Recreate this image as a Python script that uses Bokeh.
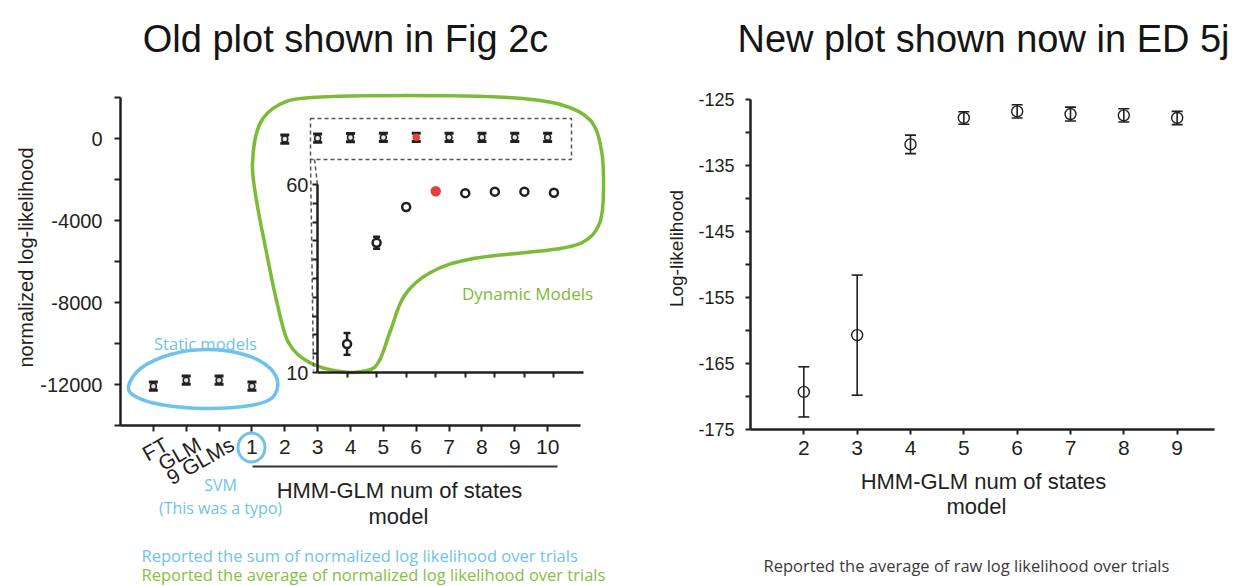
import math

from bokeh.core.properties import value
from bokeh.embed import file_html
from bokeh.models import (ColumnDataSource, FixedTicker, LinearAxis, Range1d,
                          TeeHead, Whisker)
from bokeh.plotting import figure
from bokeh.resources import INLINE

# ---------------------------------------------------------------- data
# Old panel (Fig 2c): static models + HMM-GLM with 2..10 states
old_tick_labels = ["FT", "GLM", "9 GLMs", "1", "2", "3", "4", "5", "6", "7", "8", "9", "10"]
static_models = ["FT", "GLM", "9 GLMs", "SVM"]
static_ll = [-12080, -11790, -11790, -12080]
static_err = [200, 200, 200, 200]

hmm_states_old = [2, 3, 4, 5, 6, 7, 8, 9, 10]
hmm_ll_old = [-30.0, 17.6, 44.5, 54.0, 58.2, 57.7, 58.1, 58.1, 57.8]
hmm_err_old = [200, 200, 200, 200, 200, 200, 200, 200, 200]
best_state = 6

# zoomed inset: states 3..10 on the normalized scale
inset_states = [3, 4, 5, 6, 7, 8, 9, 10]
inset_ll = [17.6, 44.5, 54.0, 58.2, 57.7, 58.1, 58.1, 57.8]
inset_err = [2.9, 1.6, 0.8, 0.5, 0.5, 0.5, 0.5, 0.5]
inset_y_ticks = [10, 60]
inset_y_minor = [15, 20, 25, 30, 35, 40, 45, 50, 55]

old_y_ticks = [-12000, -8000, -4000, 0]
old_y_minor = [-14000, -10000, -6000, -2000, 2000]

# New panel (ED 5j): raw average log likelihood
new_states = [2, 3, 4, 5, 6, 7, 8, 9]
new_ll = [-169.3, -160.7, -131.8, -127.8, -126.8, -127.2, -127.4, -127.8]
new_err = [3.8, 9.1, 1.4, 0.95, 1.0, 1.05, 1.0, 1.0]
new_y_ticks = [-175, -165, -155, -145, -135, -125]
new_y_minor = [-170, -160, -150, -140, -130]

# ---------------------------------------------------------------- page
W, H = 1234, 586
INK = "#231f20"
BLUE = "#6fc3e8"
GREEN = "#7cbb35"
RED = "#e4403a"
SANS = "Liberation Sans"
HAND = "Open Sans"


def x_span(d0, p0, d1, p1):
    """Range whose values d0/d1 land at page pixels p0/p1 (from the left)."""
    k = (d1 - d0) / (p1 - p0)
    s = d0 - p0 * k
    return Range1d(s, s + W * k)


def y_span(d0, p0, d1, p1):
    """Range whose values d0/d1 land at page pixels p0/p1 (from the top)."""
    q0, q1 = H - p0, H - p1
    k = (d1 - d0) / (q1 - q0)
    s = d0 - q0 * k
    return Range1d(s, s + H * k)


p = figure(width=W, height=H, x_range=Range1d(0, W), y_range=Range1d(H, 0),
           x_axis_type=None, y_axis_type=None, output_backend="svg",
           toolbar_location=None, min_border=0, outline_line_color=None)
p.background_fill_color = "white"
p.border_fill_color = "white"

p.extra_x_ranges = {
    "old": x_span(0, 120, 14, 580),
    "inset": x_span(2, 317, 11, 583),
    "new": x_span(1, 750, 9.7, 1214),
}
p.extra_y_ranges = {
    "old": y_span(-14000, 425, 2000, 97),
    "inset": y_span(10, 372, 60, 184),
    "new": y_span(-175, 429, -125, 99),
}


def style_axis(ax, size, tick_out=6, standoff=6, width=2.5):
    ax.axis_line_color = INK
    ax.axis_line_width = width
    ax.major_tick_line_color = INK
    ax.minor_tick_line_color = INK
    ax.major_tick_line_width = 2
    ax.minor_tick_line_width = 2
    ax.major_tick_in = 0
    ax.minor_tick_in = 0
    ax.major_tick_out = tick_out
    ax.minor_tick_out = tick_out
    ax.major_label_text_font = SANS
    ax.major_label_text_font_size = f"{size}px"
    ax.major_label_text_color = INK
    ax.major_label_standoff = standoff


def plain_labels(ticks):
    # hyphen-minus labels, as in the printed figures
    return {t: str(t) for t in ticks}


# ---- old panel axes
ay = LinearAxis(x_range_name="old", y_range_name="old", fixed_location=0,
                bounds=(-14000, 2000),
                ticker=FixedTicker(ticks=old_y_ticks, minor_ticks=old_y_minor))
ay.major_label_overrides = plain_labels(old_y_ticks)
style_axis(ay, 20, tick_out=6, standoff=12)
p.add_layout(ay, "left")

old_pos = list(range(1, len(old_tick_labels) + 1))
ax_old = LinearAxis(x_range_name="old", y_range_name="old", fixed_location=-14000,
                    bounds=(0, 14), ticker=FixedTicker(ticks=old_pos, minor_ticks=[]))
ax_old.major_label_overrides = {pos: (lab if i >= 3 else "")
                                for i, (pos, lab) in enumerate(zip(old_pos, old_tick_labels))}
style_axis(ax_old, 21, tick_out=6, standoff=8)
p.add_layout(ax_old, "below")

# slanted names of the static models under their ticks
p.text(x=old_pos[:3], y=[-14000] * 3, text=old_tick_labels[:3],
       x_range_name="old", y_range_name="old", angle=0.52,
       x_offset=13, y_offset=17, text_align="right", text_baseline="middle",
       text_font=value(SANS), text_font_size=value("21px"), text_color=INK)

# ---- inset axes
iy = LinearAxis(x_range_name="inset", y_range_name="inset", fixed_location=2,
                bounds=(10, 60),
                ticker=FixedTicker(ticks=inset_y_ticks, minor_ticks=inset_y_minor))
style_axis(iy, 20, tick_out=5, standoff=4)
p.add_layout(iy, "left")

ix = LinearAxis(x_range_name="inset", y_range_name="inset", fixed_location=10,
                bounds=(2, 11), ticker=FixedTicker(ticks=inset_states, minor_ticks=[]))
ix.major_label_overrides = {s: "" for s in inset_states}
style_axis(ix, 10, tick_out=5, standoff=2)
p.add_layout(ix, "below")

# ---- new panel axes
ny = LinearAxis(x_range_name="new", y_range_name="new", fixed_location=1,
                bounds=(-175, -125),
                ticker=FixedTicker(ticks=new_y_ticks, minor_ticks=new_y_minor))
ny.major_label_overrides = plain_labels(new_y_ticks)
style_axis(ny, 18, tick_out=5, standoff=11)
p.add_layout(ny, "left")

nx = LinearAxis(x_range_name="new", y_range_name="new", fixed_location=-175,
                bounds=(1, 9.7), ticker=FixedTicker(ticks=new_states, minor_ticks=[]))
style_axis(nx, 21, tick_out=5, standoff=6)
p.add_layout(nx, "below")


# ---------------------------------------------------------------- marks
def error_bars(xs, ys, errs, rng, color, width, head):
    src = ColumnDataSource(dict(x=xs,
                                upper=[y + e for y, e in zip(ys, errs)],
                                lower=[y - e for y, e in zip(ys, errs)]))
    w = Whisker(source=src, base="x", upper="upper", lower="lower", dimension="height",
                x_range_name=rng, y_range_name=rng,
                line_color=color, line_width=width,
                upper_head=TeeHead(size=head, line_color=color, line_width=width),
                lower_head=TeeHead(size=head, line_color=color, line_width=width))
    p.add_layout(w)


# old panel: static models at the first four slots, HMM states after them
static_x = [old_tick_labels.index(m) + 1 if m in old_tick_labels else 4 for m in static_models]
hmm_x_old = [s + 3 for s in hmm_states_old]

error_bars(static_x, static_ll, static_err, "old", INK, 3, 9)
error_bars(hmm_x_old, hmm_ll_old, hmm_err_old, "old", INK, 3, 9)
p.scatter(static_x, static_ll, x_range_name="old", y_range_name="old", marker="circle",
          size=6, fill_color="#d8d8d8", line_color=INK, line_width=1.5)
p.scatter(hmm_x_old, hmm_ll_old, x_range_name="old", y_range_name="old", marker="circle",
          size=6, line_width=1.5,
          fill_color=[RED if s == best_state else "#e6e6e6" for s in hmm_states_old],
          line_color=[RED if s == best_state else INK for s in hmm_states_old])

# inset
error_bars(inset_states, inset_ll, inset_err, "inset", INK, 2.5, 7)
p.scatter(inset_states, inset_ll, x_range_name="inset", y_range_name="inset", marker="circle",
          size=8, line_width=2.5,
          fill_color=[RED if s == best_state else "white" for s in inset_states],
          line_color=[RED if s == best_state else INK for s in inset_states])

# new panel
error_bars(new_states, new_ll, new_err, "new", INK, 1.6, 11)
p.scatter(new_states, new_ll, x_range_name="new", y_range_name="new", marker="circle",
          size=11, fill_color=None, line_color=INK, line_width=1.4)


# ---------------------------------------------------------------- decorations
def smooth_loop(pts, color, width):
    """Closed Catmull-Rom loop through the given page points, drawn as Beziers."""
    n = len(pts)
    seg = dict(x0=[], y0=[], x1=[], y1=[], cx0=[], cy0=[], cx1=[], cy1=[])
    for i in range(n):
        a, b, c, d = pts[i - 1], pts[i], pts[(i + 1) % n], pts[(i + 2) % n]
        seg["x0"].append(b[0]); seg["y0"].append(b[1])
        seg["x1"].append(c[0]); seg["y1"].append(c[1])
        seg["cx0"].append(b[0] + (c[0] - a[0]) / 6); seg["cy0"].append(b[1] + (c[1] - a[1]) / 6)
        seg["cx1"].append(c[0] - (d[0] - b[0]) / 6); seg["cy1"].append(c[1] - (d[1] - b[1]) / 6)
    p.bezier(line_color=color, line_width=width, line_cap="round", **seg)


dynamic_outline = [(252, 163), (259, 124), (279, 104), (312, 97), (407, 95), (507, 97),
                   (560, 104), (590, 120), (601, 150), (603, 190), (600, 220), (588, 238),
                   (560, 248), (473, 258), (430, 272), (404, 295), (390, 330), (379, 360),
                   (367, 370), (340, 371), (309, 362), (288, 342), (276, 300), (265, 247),
                   (256, 200)]
smooth_loop(dynamic_outline, GREEN, 3.5)

static_outline = [(128, 386), (140, 368), (170, 354), (205, 349), (240, 353), (265, 364),
                  (277, 380), (272, 397), (250, 405), (205, 408), (160, 404), (135, 396)]
smooth_loop(static_outline, BLUE, 3.5)

p.ellipse(x=[251], y=[447], width=27, height=29, width_units="screen", height_units="screen",
          fill_color=None, line_color=BLUE, line_width=3)

# dashed zoom box and its leader lines
p.quad(left=[310], right=[571], top=[118], bottom=[159], fill_color=None,
       line_color="#555555", line_width=1.5, line_dash="4 3")
p.segment(x0=[310, 314], y0=[159, 159], x1=[313, 317], y1=[370, 184],
          line_color="#555555", line_width=1.5, line_dash="4 3")

# line under the HMM state numbers
p.segment(x0=[252], y0=[466], x1=[557], y1=[466], line_color="#333333", line_width=2)


def put_text(x, y, s, size, color=INK, font=SANS, align="center",
             baseline="alphabetic", angle=0.0):
    p.text(x=[x], y=[y], text=[s], angle=angle, text_align=align, text_baseline=baseline,
           text_font=value(font), text_font_size=value(f"{size}px"), text_color=color)


put_text(345, 38, "Old plot shown in Fig 2c", 38, color="#151515")
put_text(983, 38, "New plot shown now in ED 5j", 38, color="#151515")

put_text(25, 257, "normalized log-likelihood", 20, baseline="middle", angle=math.pi / 2)
put_text(676, 248, "Log-likelihood", 19, baseline="middle", angle=math.pi / 2)

put_text(399, 490, "HMM-GLM num of states", 22)
put_text(398, 516, "model", 22)
put_text(983, 481, "HMM-GLM num of states", 22)
put_text(976, 506, "model", 22)

put_text(205, 343, "Static models", 16.5, color=BLUE, font=HAND)
put_text(527, 293, "Dynamic Models", 17, color=GREEN, font=HAND)
put_text(220, 484, "SVM", 16, color=BLUE, font=HAND)
put_text(220, 507, "(This was a typo)", 16, color=BLUE, font=HAND)

put_text(141, 555, "Reported the sum of normalized log likelihood over trials", 16.5,
         color=BLUE, font=HAND, align="left")
put_text(141, 574, "Reported the average of normalized log likelihood over trials", 16.5,
         color="#86c043", font=HAND, align="left")
put_text(763, 565, "Reported the average of raw log likelihood over trials", 16.5,
         color="#3a3a3a", font=HAND, align="left")

open("out.html", "w").write(file_html(p, INLINE))
